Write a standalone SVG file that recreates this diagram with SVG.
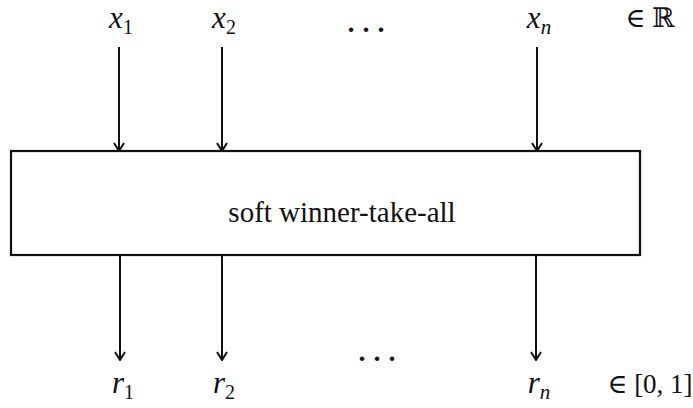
<svg xmlns="http://www.w3.org/2000/svg" width="693" height="408" viewBox="0 0 693 408">
<style>
text{font-family:"Liberation Serif","Times New Roman","DejaVu Serif",serif;fill:#111}
.m{font-style:italic;font-size:31px}
.s{font-size:20px;font-style:normal}
.si{font-size:21px;font-style:italic}
.r{font-size:27px}
.d{font-size:28px;font-weight:bold;letter-spacing:8px}
.t{font-size:29px}
.c{stroke:#111;stroke-width:2;fill:none;marker-end:url(#a)}
</style>
<defs>
<marker id="a" viewBox="0 0 12 12" refX="11" refY="6" markerWidth="12" markerHeight="12" markerUnits="userSpaceOnUse" orient="auto">
<path d="M3,1 L11,6 L3,11" fill="none" stroke="#111" stroke-width="2"/>
</marker>
</defs>
<g id="box">
<rect x="11" y="151" width="629" height="104" fill="#fff" stroke="#111" stroke-width="2.2"/>
<text class="t" x="342" y="222" text-anchor="middle">soft winner-take-all</text>
</g>
<g id="inputs">
<text class="m" x="121" y="28" text-anchor="middle">x<tspan class="s" dy="6">1</tspan></text>
<text class="m" x="224" y="28" text-anchor="middle">x<tspan class="s" dy="6">2</tspan></text>
<text class="d" x="370" y="32" text-anchor="middle">...</text>
<text class="m" x="539" y="28" text-anchor="middle">x<tspan class="si" dy="6">n</tspan></text>
<text class="r" x="650" y="27" text-anchor="middle">∈ ℝ</text>
</g>
<g id="outputs">
<text class="m" x="123" y="393" text-anchor="middle">r<tspan class="s" dy="6">1</tspan></text>
<text class="m" x="224" y="393" text-anchor="middle">r<tspan class="s" dy="6">2</tspan></text>
<text class="d" x="381" y="361" text-anchor="middle">...</text>
<text class="m" x="539" y="393" text-anchor="middle">r<tspan class="si" dy="6">n</tspan></text>
<text class="r" x="650" y="393" text-anchor="middle">∈ [0, 1]</text>
</g>
<g id="connectors">
<path class="c" d="M119,47 V151"/>
<path class="c" d="M222,47 V151"/>
<path class="c" d="M537,47 V151"/>
<path class="c" d="M120,255 V360"/>
<path class="c" d="M222,255 V360"/>
<path class="c" d="M536,255 V360"/>
</g>
</svg>
